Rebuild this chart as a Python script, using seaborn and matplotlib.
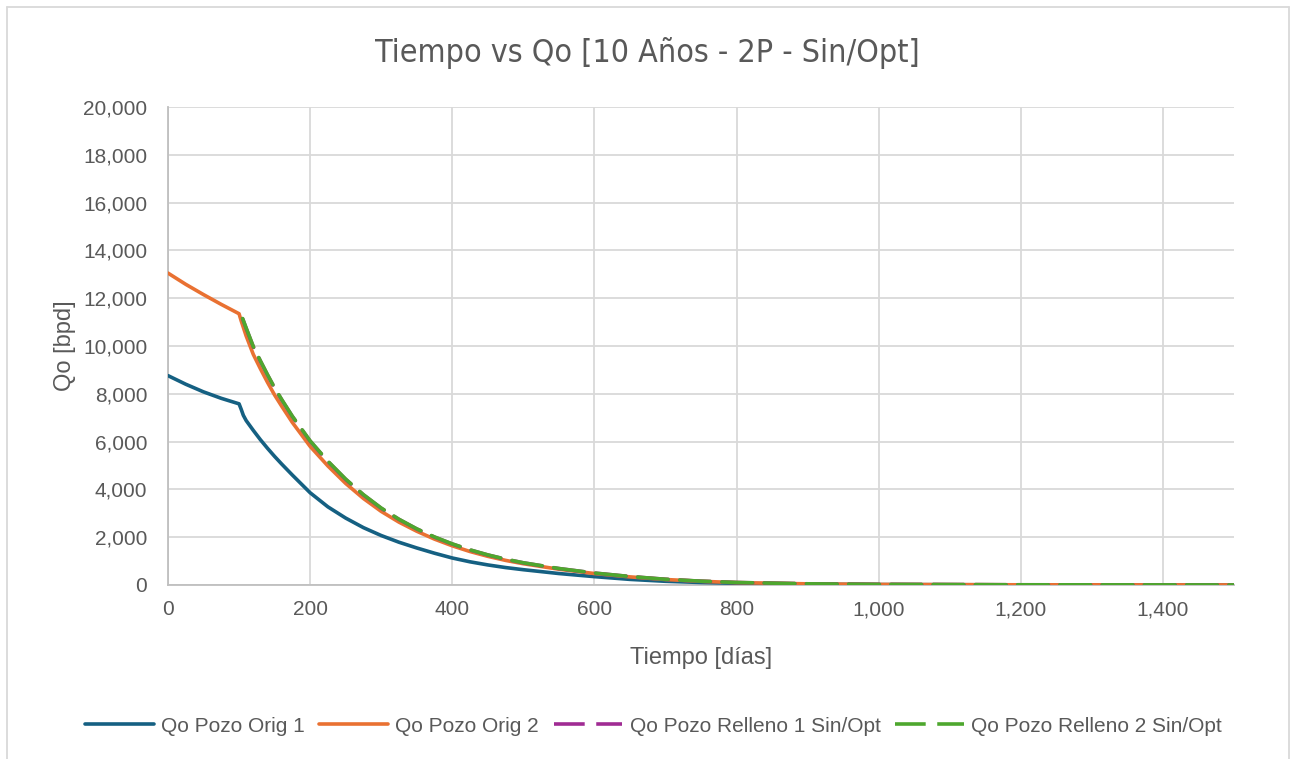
import matplotlib
matplotlib.use("Agg")
import matplotlib.pyplot as plt
import matplotlib.ticker as mticker
from matplotlib.lines import Line2D
from matplotlib import font_manager as fm
import seaborn as sns
import pandas as pd

# ---- data ----
days_orig = [0, 25, 50, 75, 100, 103, 106, 110, 120, 130, 140, 150, 160, 175, 200, 225, 250,
             275, 300, 325, 350, 375, 400, 425, 450, 475, 500, 550, 600, 650, 700, 750, 800,
             900, 1000, 1200, 1500]
qo_orig1 = [8760, 8400, 8080, 7810, 7580, 7350, 7100, 6880, 6470, 6080, 5720, 5380, 5060, 4600, 3860,
            3270, 2800, 2400, 2070, 1790, 1550, 1330, 1130, 970, 840, 730, 640, 480, 350, 235, 155,
            105, 72, 35, 18, 6, 2]
qo_orig2 = [13050, 12580, 12150, 11740, 11350, 11050, 10780, 10420, 9650, 9050, 8480, 7950, 7480, 6800,
            5800, 4980, 4250, 3620, 3080, 2630, 2250, 1920, 1640, 1400, 1200, 1030, 890, 660, 480, 340,
            230, 155, 100, 48, 24, 8, 3]
days_rell = [105, 110, 120, 130, 140, 150, 160, 175, 200, 225, 250, 275, 300, 325, 350, 375, 400,
             425, 450, 475, 500, 550, 600, 650, 700, 750, 800, 900, 1000, 1200, 1500]
qo_rell1 = [11140, 10740, 9970, 9370, 8790, 8240, 7750, 7050, 6020, 5170, 4420, 3770, 3210, 2745,
            2345, 2005, 1715, 1466, 1257, 1078, 928, 688, 499, 354, 239, 159, 104, 50, 25, 9, 3]
qo_rell2 = [11150, 10750, 9980, 9380, 8800, 8250, 7760, 7060, 6030, 5180, 4430, 3780, 3220, 2750,
            2350, 2010, 1720, 1470, 1260, 1080, 930, 690, 500, 355, 240, 160, 105, 50, 25, 9, 3]

series_names = ["Qo Pozo Orig 1", "Qo Pozo Orig 2",
                "Qo Pozo Relleno 1 Sin/Opt", "Qo Pozo Relleno 2 Sin/Opt"]
colors = ["#156082", "#E97132", "#A02B93", "#4EA72E"]

title = "Tiempo vs Qo [10 Años - 2P - Sin/Opt]"
xlabel = "Tiempo [días]"
ylabel = "Qo [bpd]"

sns.set_theme(style="white")
plt.rcParams["font.family"] = ["Liberation Sans", "DejaVu Sans"]

# condensed font for the title if available
title_family, title_size, title_stretch = ["Liberation Sans", "DejaVu Sans"], 22, "normal"
try:
    fm.findfont(fm.FontProperties(family="Liberation Sans Narrow"), fallback_to_default=False)
    title_family, title_size = ["Liberation Sans Narrow", "DejaVu Sans"], 27
except Exception:
    try:
        p = fm.findfont(fm.FontProperties(family="DejaVu Sans", stretch="condensed"),
                        fallback_to_default=False)
        if "Condensed" in p:
            title_family, title_size, title_stretch = ["DejaVu Sans"], 23, "condensed"
    except Exception:
        pass

fig = plt.figure(figsize=(12.94, 7.59), dpi=100)
ax = fig.add_axes([168 / 1294, 1 - 585 / 759, (1234 - 168) / 1294, (585 - 107) / 759])

frames = [
    pd.DataFrame({"t": days_orig, "q": qo_orig1}),
    pd.DataFrame({"t": days_orig, "q": qo_orig2}),
    pd.DataFrame({"t": days_rell, "q": qo_rell1}),
    pd.DataFrame({"t": days_rell, "q": qo_rell2}),
]
lw = 2.6
dash = (8.5, 3.2)
for i, (df, name, c) in enumerate(zip(frames, series_names, colors)):
    sns.lineplot(data=df, x="t", y="q", ax=ax, color=c, linewidth=lw,
                 label=name, legend=False, zorder=3 + i)
    if i >= 2:
        ax.lines[-1].set_dashes(dash)
    ax.lines[-1].set_solid_capstyle("round")
    ax.lines[-1].set_dash_capstyle("round")
    ax.lines[-1].set_solid_joinstyle("round")

ax.set_xlim(0, 1500)
ax.set_ylim(0, 20000)
ax.xaxis.set_major_locator(mticker.MultipleLocator(200))
ax.yaxis.set_major_locator(mticker.MultipleLocator(2000))
fmt = mticker.FuncFormatter(lambda v, p: f"{v:,.0f}")
ax.xaxis.set_major_formatter(fmt)
ax.yaxis.set_major_formatter(fmt)

ax.grid(True, color="#d9d9d9", linewidth=1.3)
ax.set_axisbelow(True)
for s in ["top", "right"]:
    ax.spines[s].set_visible(False)
for s in ["left", "bottom"]:
    ax.spines[s].set_color("#bfbfbf")
    ax.spines[s].set_linewidth(1.3)
ax.tick_params(axis="both", length=0, labelsize=15, labelcolor="#595959")
ax.tick_params(axis="y", pad=15)
ax.tick_params(axis="x", pad=11)

ax.set_xlabel(xlabel, fontsize=17, color="#595959", labelpad=20)
ax.set_ylabel(ylabel, fontsize=17, color="#595959", labelpad=5)
fig.text(0.5, 1 - 53 / 759, title, ha="center", va="center", fontsize=title_size,
         color="#595959", family=title_family, fontstretch=title_stretch)

handles = [Line2D([0], [0], color=c, linewidth=lw) for c in colors]
handles[2].set_dashes(dash)
handles[3].set_dashes(dash)
fig.legend(handles, series_names, loc="center", bbox_to_anchor=(0.505, 1 - 726 / 759),
           ncol=4, frameon=False, fontsize=15, handlelength=3.3, handletextpad=0.35,
           columnspacing=0.7, labelcolor="#595959")

# chart-area border
bc = "#d9d9d9"
fig.add_artist(Line2D([7 / 1294, 1289 / 1294], [1 - 7 / 759, 1 - 7 / 759], color=bc, lw=1.3))
fig.add_artist(Line2D([7 / 1294, 7 / 1294], [0, 1 - 7 / 759], color=bc, lw=1.3))
fig.add_artist(Line2D([1289 / 1294, 1289 / 1294], [0, 1 - 7 / 759], color=bc, lw=1.3))

fig.savefig("out.png", dpi=100, facecolor="white")
